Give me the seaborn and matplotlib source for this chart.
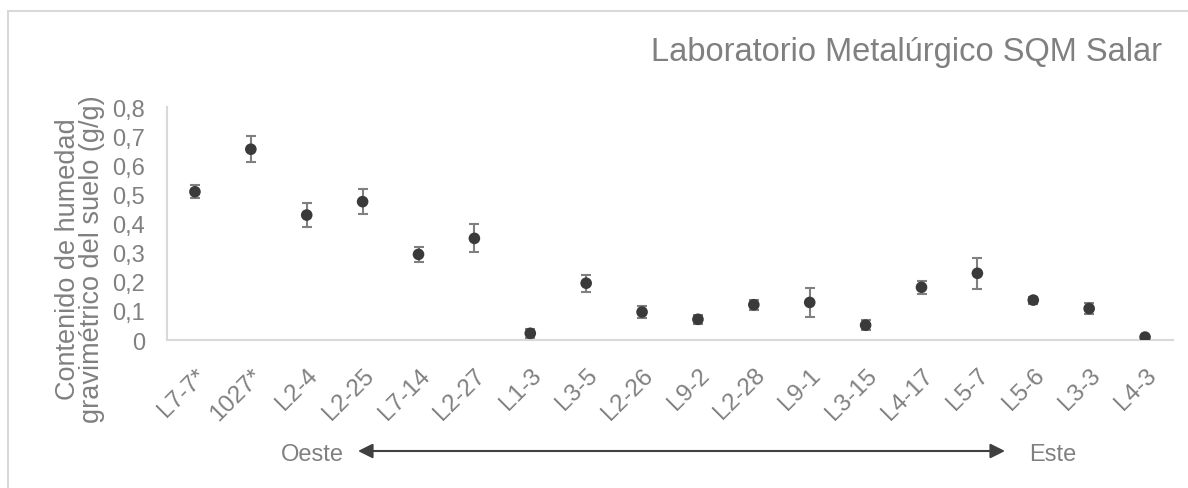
import numpy as np
import pandas as pd
import seaborn as sns
import matplotlib.pyplot as plt
from matplotlib.patches import Rectangle

# sample points, west to east
muestras = ['L7-7*', '1027*', 'L2-4', 'L2-25', 'L7-14', 'L2-27', 'L1-3', 'L3-5', 'L2-26',
            'L9-2', 'L2-28', 'L9-1', 'L3-15', 'L4-17', 'L5-7', 'L5-6', 'L3-3', 'L4-3']
humedad = [0.509, 0.655, 0.429, 0.475, 0.294, 0.349, 0.023, 0.195, 0.096,
           0.071, 0.121, 0.129, 0.051, 0.181, 0.229, 0.137, 0.108, 0.010]
error = [0.023, 0.045, 0.042, 0.042, 0.025, 0.048, 0.015, 0.029, 0.022,
         0.016, 0.017, 0.050, 0.016, 0.022, 0.054, 0.012, 0.018, 0.005]
yticks = [0, 0.1, 0.2, 0.3, 0.4, 0.5, 0.6, 0.7, 0.8]

df = pd.DataFrame({'muestra': muestras, 'humedad': humedad, 'error': error})

W, H = 1188, 489
sns.set_theme(style='white')
plt.rcParams['font.family'] = ['Liberation Sans', 'DejaVu Sans']
gris = '#808080'

fig = plt.figure(figsize=(W / 100, H / 100), dpi=100)
ax = fig.add_axes([167 / W, 1 - 341 / H, (1173 - 167) / W, (341 - 108) / H])

# chart frame, cut by the picture edges
fig.patches.append(Rectangle((8 / W, -0.1), 1.2, 1 - 12 / H + 0.1, transform=fig.transFigure,
                             fill=False, edgecolor='#d9d9d9', linewidth=1.5))

sns.scatterplot(data=df, x='muestra', y='humedad', ax=ax, color='#3a3a3a',
                s=70, edgecolor='none', zorder=3)
ax.errorbar(np.arange(len(df)), df['humedad'], yerr=df['error'], fmt='none',
            ecolor=gris, elinewidth=1.5, capsize=3.8, capthick=1.5, zorder=2)

ax.set_xlim(-0.5, len(df) - 0.5)
ax.set_ylim(0, 0.8)
ax.set_yticks(yticks)
ax.set_yticklabels([f'{v:g}'.replace('.', ',') for v in yticks])
ax.set_xlabel('')
ax.set_ylabel('')
ax.tick_params(axis='both', length=0, labelsize=17, labelcolor=gris)
ax.tick_params(axis='x', labelsize=17.5)
ax.tick_params(axis='y', pad=16)
ax.tick_params(axis='x', pad=17)
plt.setp(ax.get_xticklabels(), rotation=45, ha='right', rotation_mode='anchor')
for s in ['top', 'right']:
    ax.spines[s].set_visible(False)
for s in ['left', 'bottom']:
    ax.spines[s].set_color('#d9d9d9')
    ax.spines[s].set_linewidth(1.5)

fig.text(80 / W, 1 - 259 / H, 'Contenido de humedad\ngravimétrico del suelo (g/g)',
         rotation=90, ha='center', va='center', ma='center', fontsize=19.5, color=gris,
         linespacing=0.92)
fig.text(1162 / W, 1 - 52 / H, 'Laboratorio Metalúrgico SQM Salar', ha='right', va='center',
         fontsize=23.5, color=gris)

# west-east arrow
fig.text(344 / W, 1 - 455 / H, 'Oeste', ha='right', va='center', fontsize=17, color=gris)
fig.text(1029 / W, 1 - 455 / H, 'Este', ha='left', va='center', fontsize=17, color=gris)
ax.annotate('', xy=(1005 / W, 1 - 452 / H), xytext=(358 / W, 1 - 452 / H),
            xycoords='figure fraction', textcoords='figure fraction',
            arrowprops=dict(arrowstyle='<|-|>', color='#404040', lw=1.5,
                            mutation_scale=22, shrinkA=0, shrinkB=0))

fig.savefig('out.png', dpi=100)
